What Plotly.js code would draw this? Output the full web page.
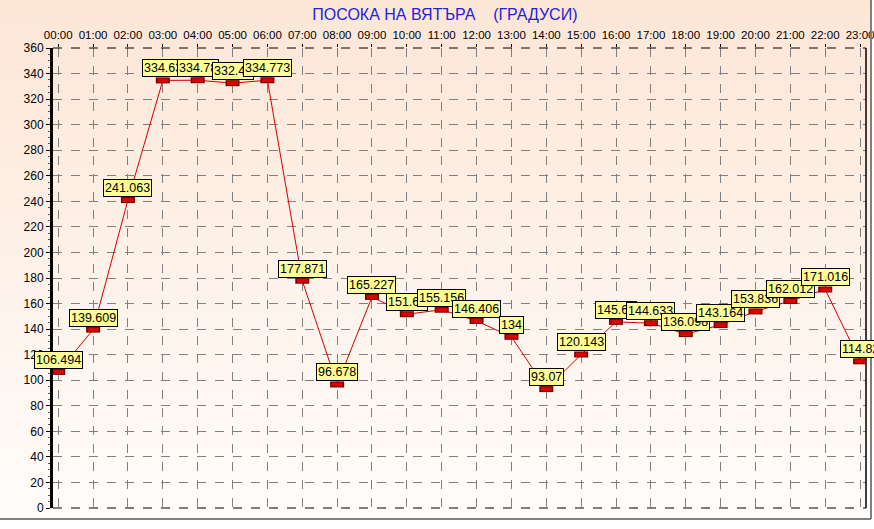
<!DOCTYPE html>
<html>
<head>
<meta charset="utf-8">
<script src="https://cdn.plot.ly/plotly-3.0.1.min.js"></script>
<style>
  html, body { margin: 0; padding: 0; background: #ffffff; }
  #chart { width: 874px; height: 529px; }
</style>
</head>
<body>
<div id="chart"></div>
<script>
const hours = ['00:00', '01:00', '02:00', '03:00', '04:00', '05:00', '06:00', '07:00',
    '08:00', '09:00', '10:00', '11:00', '12:00', '13:00', '14:00', '15:00',
    '16:00', '17:00', '18:00', '19:00', '20:00', '21:00', '22:00', '23:00'];

const direction = [106.494, 139.609, 241.063, 334.63, 334.78, 332.48, 334.773, 177.871,
    96.678, 165.227, 151.65, 155.156, 146.406, 134, 93.07, 120.143,
    145.65, 144.633, 136.098, 143.164, 153.836, 162.012, 171.016, 114.82];

const labels = ['106.494', '139.609', '241.063', '334.63', '334.78', '332.48', '334.773', '177.871',
    '96.678', '165.227', '151.65', '155.156', '146.406', '134', '93.07', '120.143',
    '145.65', '144.633', '136.098', '143.164', '153.836', '162.012', '171.016', '114.82'];

const yTicks = [0, 20, 40, 60, 80, 100, 120, 140, 160, 180, 200, 220, 240, 260, 280, 300, 320, 340, 360];

const idx = hours.map((h, i) => i);

// background fade, peach at the top to almost white at the bottom
const bgSvg = '<svg xmlns="http://www.w3.org/2000/svg" width="100" height="100" preserveAspectRatio="none">' +
    '<defs><linearGradient id="g" x1="0" y1="0" x2="0" y2="1">' +
    '<stop offset="0" stop-color="#fde6d6"/><stop offset="1" stop-color="#fffdfb"/>' +
    '</linearGradient></defs><rect width="100" height="100" fill="url(#g)"/></svg>';

const lineTrace = {
    x: idx,
    y: direction,
    mode: 'lines',
    line: {color: '#d40000', width: 1},
    hoverinfo: 'skip',
    showlegend: false,
};

const markerBack = {
    x: idx,
    y: direction,
    mode: 'markers',
    marker: {symbol: 'line-ew', size: 10, line: {color: '#700000', width: 6}},
    hoverinfo: 'skip',
    showlegend: false,
};

const markerFront = {
    x: idx,
    y: direction,
    mode: 'markers',
    marker: {symbol: 'line-ew', size: 8, line: {color: '#dd0000', width: 4}},
    showlegend: false,
};

const annotations = idx.map(i => ({
    x: i,
    y: direction[i],
    xref: 'x',
    yref: 'y',
    text: labels[i],
    showarrow: false,
    xanchor: 'center',
    yanchor: 'bottom',
    yshift: 3,
    bgcolor: '#ffff99',
    bordercolor: '#000000',
    borderwidth: 1,
    borderpad: 1,
    font: {family: 'Liberation Sans, Arial, sans-serif', size: 12.5, color: '#000000'},
}));

const layout = {
    width: 874,
    height: 529,
    margin: {l: 53, r: 8, t: 48, b: 21},
    paper_bgcolor: '#ffffff',
    plot_bgcolor: 'rgba(0,0,0,0)',
    font: {family: 'Liberation Sans, Arial, sans-serif', size: 11, color: '#000000'},
    title: {
        text: 'ПОСОКА НА ВЯТЪРА\u00a0\u00a0\u00a0\u00a0(ГРАДУСИ)',
        font: {family: 'Liberation Sans, Arial, sans-serif', size: 16, color: '#2222dd'},
        x: 0.509,
        xanchor: 'center',
        y: 0.972,
        yanchor: 'middle',
    },
    showlegend: false,
    xaxis: {
        side: 'top',
        range: [-0.15, 23.17],
        tickvals: idx,
        ticktext: hours,
        ticklabeloverflow: 'allow',
        ticks: 'outside',
        ticklen: 3,
        tickcolor: '#000000',
        tickfont: {size: 11.5},
        showgrid: true,
        gridcolor: '#808080',
        griddash: 'dash',
        gridwidth: 1,
        zeroline: false,
        showline: false,
        fixedrange: true,
    },
    yaxis: {
        range: [0, 360],
        tickvals: yTicks,
        ticks: 'outside',
        ticklen: 4,
        tickcolor: '#000000',
        tickfont: {size: 12},
        showgrid: true,
        gridcolor: '#808080',
        griddash: 'dash',
        gridwidth: 1,
        zeroline: false,
        showline: true,
        linecolor: '#000000',
        linewidth: 3,
        minor: {dtick: 5, ticks: 'outside', ticklen: 2, tickcolor: '#555555', showgrid: false},
        fixedrange: true,
    },
    images: [{
        source: 'data:image/svg+xml;charset=utf-8,' + encodeURIComponent(bgSvg),
        xref: 'paper', yref: 'paper',
        x: -53 / 813, y: 1 + 48 / 460,
        sizex: 871 / 813, sizey: 519 / 460,
        xanchor: 'left', yanchor: 'top',
        sizing: 'stretch',
        layer: 'below',
    }],
    shapes: [
        {type: 'line', xref: 'paper', yref: 'paper', x0: 0, x1: 1, y0: 1, y1: 1,
         line: {color: '#000000', width: 1, dash: 'dash'}},
        {type: 'line', xref: 'paper', yref: 'paper', x0: 0, x1: 1, y0: 0, y1: 0,
         line: {color: '#000000', width: 1, dash: 'dash'}},
        {type: 'line', xref: 'paper', yref: 'paper', x0: 1, x1: 1, y0: 0, y1: 1,
         line: {color: '#000000', width: 1.5}},
        {type: 'line', xref: 'paper', yref: 'paper', x0: 1.00615, x1: 1.00615, y0: -0.0239, y1: 1.1043,
         line: {color: '#808080', width: 2}},
        {type: 'line', xref: 'paper', yref: 'paper', x0: -0.0652, x1: 1.00615, y0: -0.0239, y1: -0.0239,
         line: {color: '#808080', width: 2}},
    ],
    annotations: annotations,
};

Plotly.newPlot('chart', [lineTrace, markerBack, markerFront], layout, {displayModeBar: false, staticPlot: true});
</script>
</body>
</html>
